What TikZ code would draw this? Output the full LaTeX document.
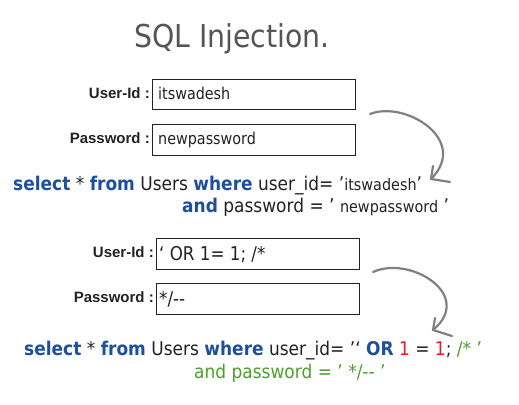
\documentclass[tikz,border=0pt]{standalone}
\usepackage{fontspec}
\setmainfont{DejaVu Sans}[FakeStretch=0.9]
\newfontfamily\valfont{DejaVu Sans}[FakeStretch=0.88]
\newfontfamily\labelfont{Liberation Sans}
\usetikzlibrary{arrows.meta}
\definecolor{sqlblue}{HTML}{1E4F9C}
\definecolor{sqlred}{HTML}{E8192C}
\definecolor{sqlgreen}{HTML}{4E9E2E}
\definecolor{titlegray}{HTML}{555555}
\definecolor{arrowgray}{HTML}{808080}
\definecolor{txt}{HTML}{222222}
\tikzset{
  inbox/.style={draw=txt, line width=1.4pt, minimum width=203pt, inner sep=0pt, anchor=north west},
  lbl/.style={font=\labelfont\bfseries\fontsize{15}{17}\selectfont, text=txt, anchor=base east, inner sep=0pt},
  val/.style={font=\valfont\fontsize{16.3}{18}\selectfont, text=txt, anchor=base west, inner sep=0pt},
  bigval/.style={val, font=\valfont\fontsize{19}{21}\selectfont},
  sql/.style={font=\fontsize{18.9}{21}\selectfont, text=txt, anchor=base west, inner sep=0pt},
  curvy/.style={draw=arrowgray, line width=2.2pt, line cap=round, line join=round},
}
\newcommand{\kw}[1]{{\bfseries\color{sqlblue}#1}}
\begin{document}
\begin{tikzpicture}[x=1pt,y=-1pt]
\useasboundingbox (0,0) rectangle (519,404);
\node[font=\fontsize{31.5}{36}\selectfont, text=titlegray, anchor=base] (title) at (232,48) {SQL Injection.};

% first form
\node[inbox, minimum height=30pt] (b1) at (152,79) {};
\node[inbox, minimum height=31pt] (b2) at (152,124) {};
\node[lbl] (l1) at (150,98) {User-Id :};
\node[lbl] (l2) at (150,143) {Password :};
\node[val] (v1) at (158,99) {itswadesh};
\node[val] (v2) at (158,144) {newpassword};

\node[sql] (q1) at (13,190) {\kw{select} * \kw{from} Users \kw{where} user\_id= ’{\fontsize{16}{18}\selectfont itswadesh}’};
\node[sql] (q2) at (182,212) {\kw{and} password = ’ {\fontsize{16}{18}\selectfont newpassword} ’};

% second form
\node[inbox, minimum height=31pt] (b3) at (156,238) {};
\node[inbox, minimum height=31pt] (b4) at (156,283) {};
\node[lbl] (l3) at (154,257) {User-Id :};
\node[lbl] (l4) at (154,302) {Password :};
\node[bigval] (v3) at (159,260) {‘ OR 1= 1; /*};
\node[bigval] (v4) at (159,305) {*/-{}-};

\node[sql] (q3) at (24,355) {\kw{select} * \kw{from} Users \kw{where} user\_id= ’‘ \kw{OR} {\color{sqlred}1} = {\color{sqlred}1}; {\color{sqlgreen}/* ’}};
\node[sql, text=sqlgreen] (q4) at (194,378) {and password = ’ */-{}- ’};

% arrows
\coordinate (s1) at (370,114);
\coordinate (t1) at (431,179);
\draw[curvy] (s1) .. controls (405,100) and (470,140) .. (t1);
\draw[curvy] (433,166) -- (t1) -- (450,182);

\coordinate (s2) at (373,272);
\coordinate (t2) at (433,330);
\draw[curvy] (s2) .. controls (410,255) and (475,295) .. (t2);
\draw[curvy] (435,318) -- (t2) -- (452,336);
\end{tikzpicture}
\end{document}
